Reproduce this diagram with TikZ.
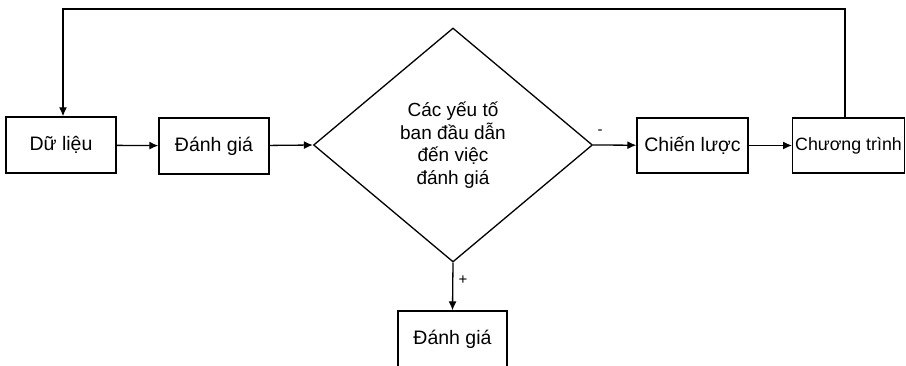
\documentclass[tikz,border=0pt]{standalone}
\usepackage{fontspec}
\setmainfont{Liberation Sans}
\usetikzlibrary{shapes.geometric,arrows.meta}
\begin{document}
\begin{tikzpicture}[x=1pt,y=-1pt,
  box/.style={draw,line width=1.3pt,minimum width=110pt,minimum height=56pt,inner sep=0pt,font=\fontsize{19.5}{23}\selectfont},
  decision/.style={draw,shape=diamond,line width=1.3pt,minimum width=279pt,minimum height=234pt,inner sep=0pt,align=center,font=\fontsize{19}{22.5}\selectfont},
  flow/.style={line width=1.3pt,-{Latex[length=9pt,width=8pt]}},
  sign/.style={font=\fontsize{15}{16}\selectfont,inner sep=0pt}]
\useasboundingbox (0,0) rectangle (906,366);
\clip (0,0) rectangle (906,366);
\fill[white] (0,0) rectangle (906,366);

% process boxes
\node[box] (dl) at (61,145) {Dữ liệu};
\node[box] (dg) at (214,146) {Đánh giá};
\node[decision] (yt) at (453,145) {Các yếu tố\\ban đầu dẫn\\đến việc\\đánh giá};
\node[box,minimum width=111pt,minimum height=55pt] (cl) at (692.5,145.5) {Chiến lược};
\node[box,minimum width=0pt,minimum height=55pt,anchor=west,inner xsep=2.5pt,font=\fontsize{17.8}{23}\selectfont] (ct) at (792,145.5) {Chương trình};
\node[box,minimum width=109pt] (kq) at (452.5,339) {Đánh giá};

% feedback loop corners
\coordinate (tl) at (63,9);
\coordinate (tr) at (845,9);

% connectors
\draw[flow] (dl) -- (dg);
\draw[flow] (dg) -- (yt.west);
\draw[flow] (yt.east) -- (cl);
\draw[flow] (cl) -- (ct);
\draw[flow] (yt.south) -- (kq.north);
\draw[flow] (ct.north -| tr) -- (tr) -- (tl) -- (tl |- dl.north);

% branch signs
\node[sign] (minus) at (600,132) {-};
\node[sign] (plus) at (463,280) {+};
\end{tikzpicture}
\end{document}
